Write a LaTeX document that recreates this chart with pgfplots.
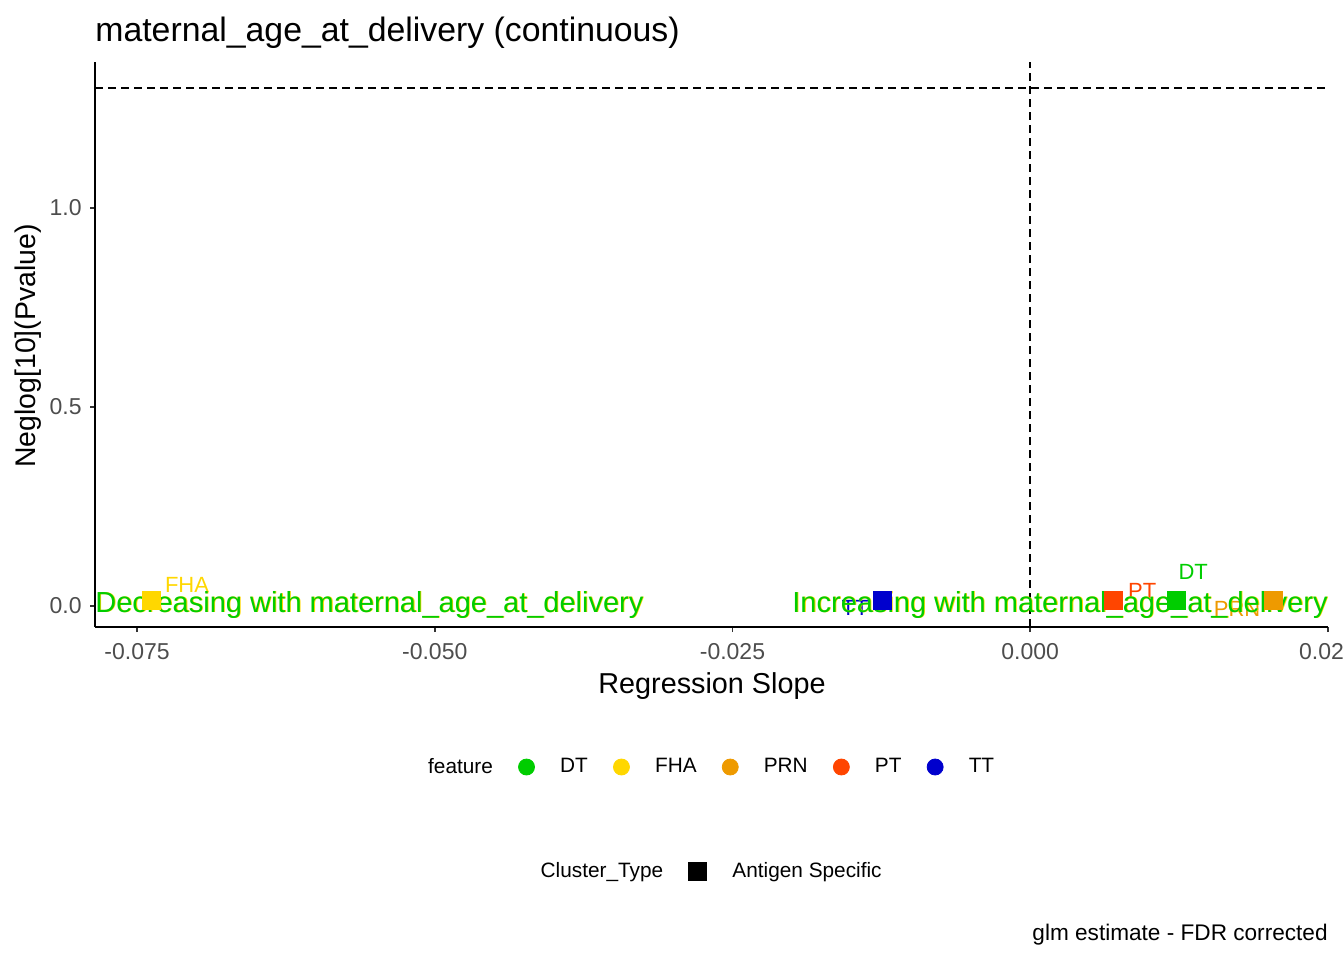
\documentclass[border=0pt]{standalone}
\usepackage{pgfplots}
\pgfplotsset{compat=1.18}
\usepackage{fontspec}
\setmainfont{Liberation Sans}
\definecolor{cDT}{HTML}{00CD00}
\definecolor{cFHA}{HTML}{FFD700}
\definecolor{cPRN}{HTML}{EE9A00}
\definecolor{cPT}{HTML}{FF4500}
\definecolor{cTT}{HTML}{0000CD}
\definecolor{gtick}{HTML}{4D4D4D}
\definecolor{gline}{HTML}{333333}
\begin{document}
\begin{tikzpicture}
\useasboundingbox (0,0) rectangle (672pt,480pt);
\begin{axis}[
  name=main,
  scale only axis,
  width=616.5pt, height=282.5pt,
  at={(47.5pt,166.5pt)}, anchor=south west,
  xmin=-0.07853, xmax=0.02501,
  ymin=-0.0528, ymax=1.3668,
  axis x line*=bottom, axis y line*=left,
  axis line style={black, line width=1pt, -},
  scaled x ticks=false, scaled y ticks=false,
  xtick={-0.075,-0.05,-0.025,0,0.025},
  xticklabels={-0.075,-0.050,-0.025,0.000,0.025},
  ytick={0,0.5,1},
  yticklabels={0.0,0.5,1.0},
  tick align=outside,
  major tick length=2.5pt,
  tick style={gline, line width=0.9pt},
  ticklabel style={font=\fontsize{11.5}{13}\selectfont, text=gtick},
  xticklabel style={inner sep=0pt, yshift=-5.5pt},
  yticklabel style={inner sep=0pt, xshift=-4pt},
  clip=false,
  legend columns=-1,
  legend style={at={(0.4895,-0.2478)}, anchor=center, draw=none, fill=none,
    inner sep=0pt,
    nodes={inner sep=0pt, font=\fontsize{10.4}{12}\selectfont},
    /tikz/every even column/.append style={column sep=12.6pt},
    /tikz/every odd column/.append style={column sep=12.6pt}},
]
\addlegendimage{empty legend}
\addlegendentry{feature}
\addlegendimage{legend image code/.code={\fill[cDT] (0pt,0pt) circle (4pt);}}
\addlegendentry{DT}
\addlegendimage{legend image code/.code={\fill[cFHA] (0pt,0pt) circle (4pt);}}
\addlegendentry{FHA}
\addlegendimage{legend image code/.code={\fill[cPRN] (0pt,0pt) circle (4pt);}}
\addlegendentry{PRN}
\addlegendimage{legend image code/.code={\fill[cPT] (0pt,0pt) circle (4pt);}}
\addlegendentry{PT}
\addlegendimage{legend image code/.code={\fill[cTT] (0pt,0pt) circle (4pt);}}
\addlegendentry{TT}

\addplot[black, line width=0.85pt, dash pattern=on 4pt off 2.5pt, forget plot] coordinates {(0,-0.0528) (0,1.3668)};
\addplot[black, line width=0.85pt, dash pattern=on 4pt off 2.5pt, forget plot] coordinates {(-0.07853,1.30103) (0.02501,1.30103)};

\addplot[only marks, mark=square*, mark size=4.5pt, cFHA, forget plot] coordinates {(-0.07383,0.014)};
\addplot[only marks, mark=square*, mark size=4.5pt, cTT, forget plot] coordinates {(-0.01243,0.014)};
\addplot[only marks, mark=square*, mark size=4.5pt, cPT, forget plot] coordinates {(0.0070,0.013)};
\addplot[only marks, mark=square*, mark size=4.5pt, cDT, forget plot] coordinates {(0.01226,0.014)};
\addplot[only marks, mark=square*, mark size=4.5pt, cPRN, forget plot] coordinates {(0.02040,0.014)};

\node[text=cFHA, font=\fontsize{11}{13}\selectfont] at (axis cs:-0.0708,0.053) {FHA};
\node[text=cTT, font=\fontsize{11}{13}\selectfont] at (axis cs:-0.0147,-0.005) {TT};
\node[text=cPT, font=\fontsize{11}{13}\selectfont] at (axis cs:0.0094,0.038) {PT};
\node[text=cDT, font=\fontsize{11}{13}\selectfont] at (axis cs:0.01369,0.085) {DT};
\node[text=cPRN, font=\fontsize{11}{13}\selectfont] at (axis cs:0.01738,-0.0075) {PRN};

\node[text=cFHA, anchor=base west, inner sep=0pt, font=\fontsize{14.5}{17}\selectfont] at (axis cs:-0.07853,-0.0168) {\hspace*{0.4pt}Decreasing with maternal\_age\_at\_delivery};
\node[text=cDT, anchor=base west, inner sep=0pt, font=\fontsize{14.5}{17}\selectfont] at (axis cs:-0.07853,-0.0168) {Decreasing with maternal\_age\_at\_delivery};
\node[text=cFHA, anchor=base east, inner sep=0pt, font=\fontsize{14.5}{17}\selectfont] at (axis cs:0.02501,-0.0168) {Increasing with maternal\_age\_at\_delivery\hspace*{-0.4pt}};
\node[text=cDT, anchor=base east, inner sep=0pt, font=\fontsize{14.5}{17}\selectfont] at (axis cs:0.02501,-0.0168) {Increasing with maternal\_age\_at\_delivery};
\end{axis}

\begin{axis}[
  scale only axis,
  width=616.5pt, height=282.5pt,
  at={(47.5pt,166.5pt)}, anchor=south west,
  xmin=0, xmax=1, ymin=0, ymax=1,
  hide axis,
  legend columns=-1,
  legend style={at={(0.4895,-0.4319)}, anchor=center, draw=none, fill=none,
    inner sep=0pt,
    nodes={inner sep=0pt, font=\fontsize{10.4}{12}\selectfont},
    /tikz/every even column/.append style={column sep=12.6pt},
    /tikz/every odd column/.append style={column sep=12.6pt}},
]
\addlegendimage{empty legend}
\addlegendentry{Cluster\_Type}
\addlegendimage{legend image code/.code={\fill[black] (-4.5pt,-4.5pt) rectangle (4.5pt,4.5pt);}}
\addlegendentry{Antigen Specific}
\end{axis}

\node[anchor=base west, inner sep=0pt, font=\fontsize{16.9}{20}\selectfont] at (47.5pt,459.2pt) {maternal\_age\_at\_delivery (continuous)};
\node[rotate=90, inner sep=0pt, font=\fontsize{14.2}{17}\selectfont] at (14pt,307pt) {Neglog[10](Pvalue)};
\node[inner sep=0pt, font=\fontsize{14.4}{17}\selectfont] at (356pt,137pt) {Regression Slope};
\node[anchor=base east, inner sep=0pt, font=\fontsize{11.3}{13}\selectfont] at (664pt,10pt) {glm estimate - FDR corrected};
\end{tikzpicture}
\end{document}
